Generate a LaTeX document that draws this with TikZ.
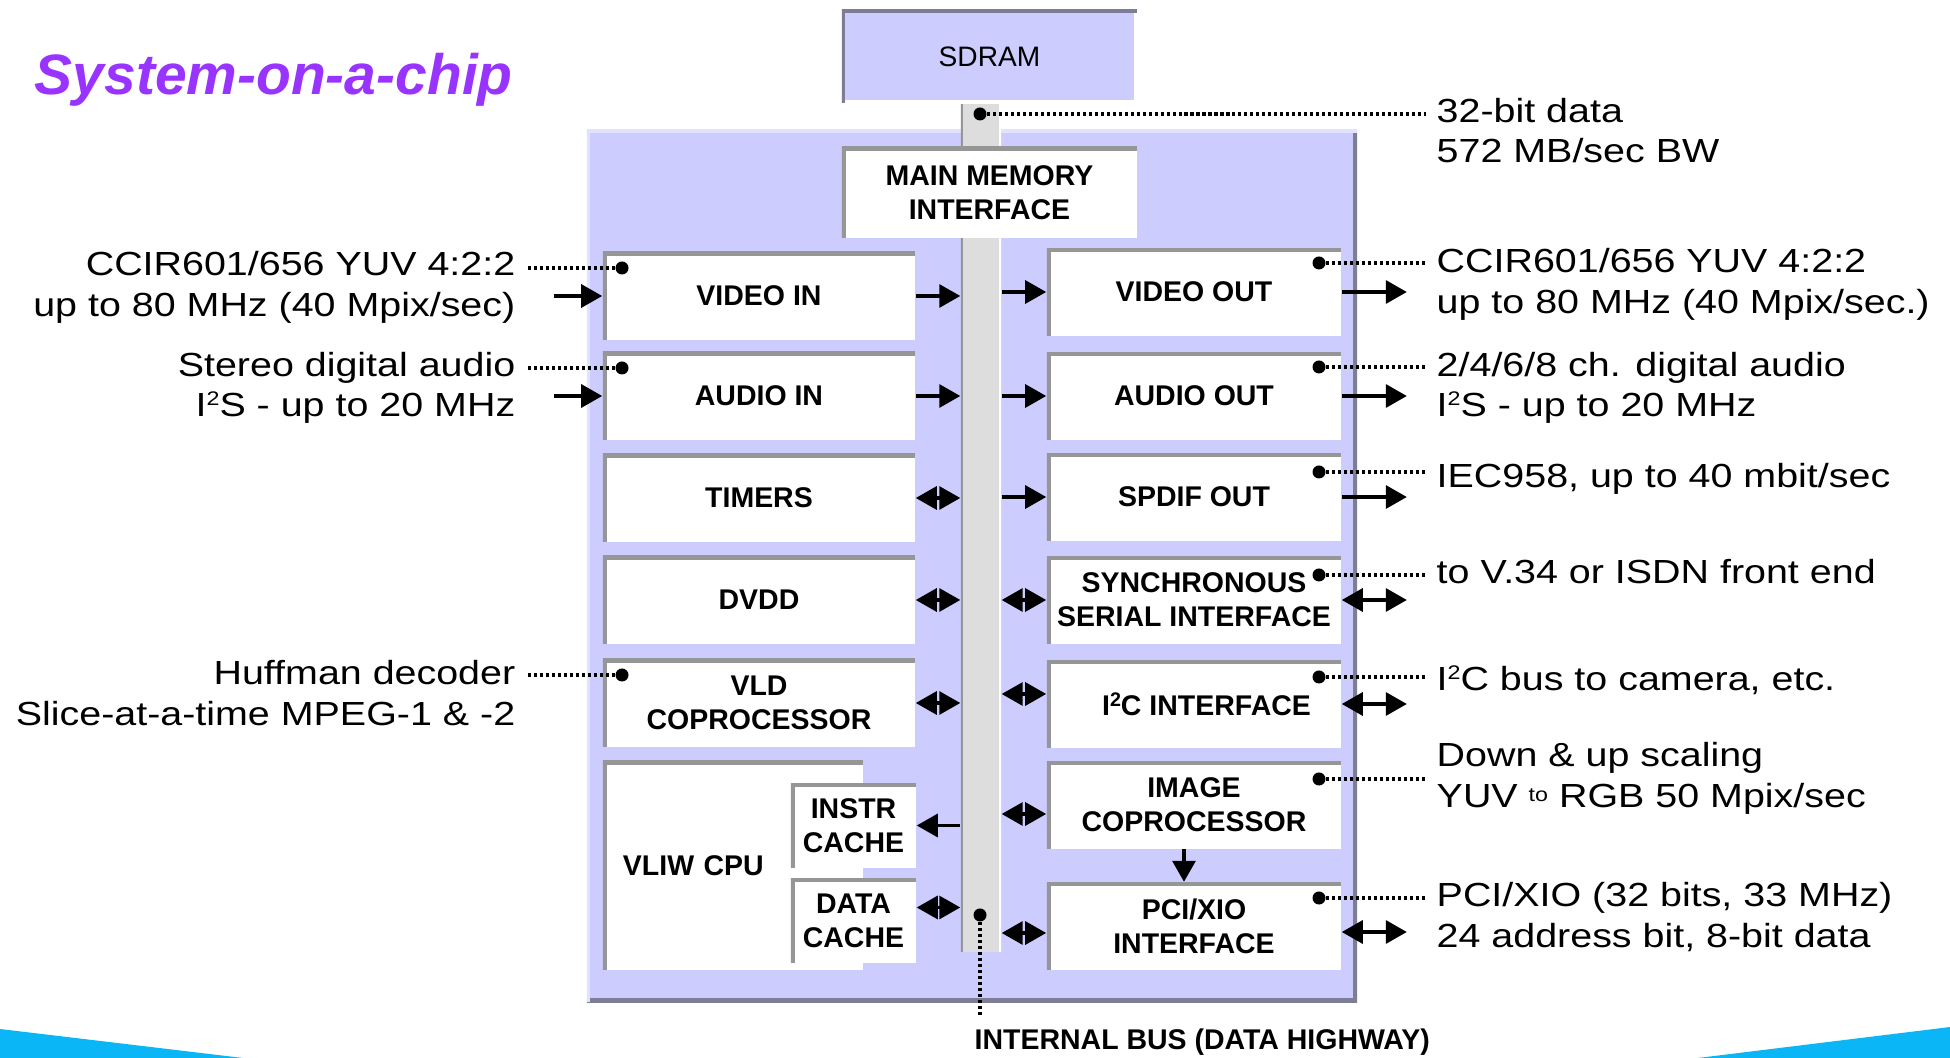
\documentclass[tikz,border=0pt]{standalone}
\usepackage{fontspec}
\setmainfont{Liberation Sans}
\newfontfamily\labelfont{Liberation Sans}[FakeStretch=1.18]
\usetikzlibrary{arrows.meta}

\definecolor{chipfill}{RGB}{204,204,255}
\definecolor{chiplight}{RGB}{226,226,255}
\definecolor{chipshade}{RGB}{125,125,150}
\definecolor{boxedge}{RGB}{150,150,150}
\definecolor{busfill}{RGB}{221,221,221}
\definecolor{titlepurple}{RGB}{153,51,255}
\definecolor{skyblue}{RGB}{10,182,246}

\newcommand{\blockfont}{\bfseries\fontsize{8.1}{9.6}\selectfont}
\newcommand{\extfont}{\labelfont\fontsize{9.5}{11.5}\selectfont}
\newcommand{\supsmall}[1]{\raisebox{0.62ex}{\fontsize{5.6}{6}\selectfont #1}}

\begin{document}
\begin{tikzpicture}[x=0.01cm, y=-0.01cm,
  flow/.style={line width=0.9pt, -{Triangle[length=2.1mm,width=2.3mm]}},
  flowtwo/.style={line width=0.9pt, {Triangle[length=2.1mm,width=2.3mm]}-{Triangle[length=2.1mm,width=2.3mm]}},
  leader/.style={line width=0.95pt, dash pattern=on 0.9pt off 0.8pt},
  tapdot/.style={circle, fill=black, inner sep=0pt, minimum size=1.3mm},
  blockbox/.style={fill=white, inner sep=0pt, align=center, font=\blockfont,
    path picture={\draw[boxedge, line width=0.8mm]
      (path picture bounding box.south west) -- (path picture bounding box.north west)
      -- (path picture bounding box.north east);}},
  leftbox/.style={blockbox, minimum width=3.12cm, minimum height=0.88cm},
  rightbox/.style={blockbox, minimum width=2.94cm, minimum height=0.87cm},
  cachebox/.style={blockbox, minimum width=1.25cm, minimum height=0.84cm},
  extlabel/.style={font=\extfont, inner xsep=1mm, inner ysep=0pt},
]

\useasboundingbox (0,0) rectangle (1950,1058);

% Background wedges
\fill[skyblue] (0,1029) -- (243,1058) -- (0,1058) -- cycle;
\fill[skyblue] (1698,1058) -- (1950,1027) -- (1950,1058) -- cycle;

% Title
\node[anchor=west, inner sep=0pt, text=titlepurple,
  font=\bfseries\itshape\fontsize{16.2}{19}\selectfont] (title) at (34,80) {System-on-a-chip};

% Chip outline
\node[fill=chipfill, inner sep=0pt, minimum width=7.70cm, minimum height=8.72cm,
  path picture={
    \draw[chipshade, line width=0.8mm] (path picture bounding box.south west)
      -- (path picture bounding box.south east) -- (path picture bounding box.north east);
    \draw[chiplight, line width=0.6mm] (path picture bounding box.south west)
      -- (path picture bounding box.north west) -- (path picture bounding box.north east);
  }] (chip) at (972,566) {};

% Internal bus
\node[fill=busfill, inner sep=0pt, minimum width=0.40cm, minimum height=8.52cm,
  path picture={
    \draw[boxedge, line width=0.5mm] (path picture bounding box.south west)
      -- (path picture bounding box.north west);
    \draw[white, line width=0.4mm] (path picture bounding box.south east)
      -- (path picture bounding box.north east);
  }] (bus) at (981,526) {};

% SDRAM
\node[fill=chipfill, inner sep=0pt, minimum width=2.95cm, minimum height=0.93cm,
  font=\fontsize{8}{9.6}\selectfont,
  path picture={
    \draw[white, line width=0.6mm] (path picture bounding box.south west)
      -- (path picture bounding box.south east) -- (path picture bounding box.north east);
    \draw[chipshade, line width=0.7mm] (path picture bounding box.south west)
      -- (path picture bounding box.north west) -- (path picture bounding box.north east);
  }] (sdram) at (989.5,56.5) {SDRAM};

\node[blockbox, minimum width=2.95cm, minimum height=0.91cm] (mmi) at (989.5,192.5) {MAIN MEMORY\\INTERFACE};

% Left column
\node[leftbox] (vin) at (759,296) {VIDEO IN};
\node[leftbox] (ain) at (759,396) {AUDIO IN};
\node[leftbox] (tim) at (759,498) {TIMERS};
\node[leftbox] (dvdd) at (759,600) {DVDD};
\node[leftbox] (vld) at (759,703) {VLD\\COPROCESSOR};
\node[blockbox, minimum width=2.60cm, minimum height=2.09cm, text width=2.2cm, align=left]
  (cpu) at (733,865.5) {VLIW CPU};
\node[cachebox] (icache) at (853.5,825.5) {INSTR\\CACHE};
\node[cachebox] (dcache) at (853.5,920.5) {DATA\\CACHE};

% Right column
\node[rightbox] (vout) at (1194,292) {VIDEO OUT};
\node[rightbox] (aout) at (1194,396) {AUDIO OUT};
\node[rightbox] (spdif) at (1194,497) {SPDIF OUT};
\node[rightbox] (ssi) at (1194,600) {SYNCHRONOUS\\SERIAL INTERFACE};
\node[rightbox] (i2c) at (1194,704) {\hspace*{2.5mm}I\supsmall{2}C INTERFACE};
\node[rightbox] (imgc) at (1194,805) {IMAGE\\COPROCESSOR};
\node[rightbox] (pci) at (1194,926) {PCI/XIO\\INTERFACE};

% Bus connections, left
\draw[flow] ([xshift=-4.8mm]vin.west) -- (vin.west);
\draw[flow] ([xshift=-4.8mm]ain.west) -- (ain.west);
\draw[flow] (vin.east) -- (vin.east -| bus.west);
\draw[flow] (ain.east) -- (ain.east -| bus.west);
\draw[flowtwo] (tim.east) -- (tim.east -| bus.west);
\draw[flowtwo] (dvdd.east) -- (dvdd.east -| bus.west);
\draw[flowtwo] (vld.east) -- (vld.east -| bus.west);
\draw[flow] (icache.east -| bus.west) -- (icache.east);
\draw[flowtwo] ([yshift=1.3mm]dcache.east) -- ([yshift=1.3mm]dcache.east -| bus.west);

% Bus connections, right
\draw[flow] (vout.west -| bus.east) -- (vout.west);
\draw[flow] (aout.west -| bus.east) -- (aout.west);
\draw[flow] (spdif.west -| bus.east) -- (spdif.west);
\draw[flowtwo] (ssi.west -| bus.east) -- (ssi.west);
\draw[flowtwo] ([yshift=1mm]i2c.west -| bus.east) -- ([yshift=1mm]i2c.west);
\draw[flowtwo] ([yshift=-0.9mm]imgc.west -| bus.east) -- ([yshift=-0.9mm]imgc.west);
\draw[flowtwo] ([yshift=-0.7mm]pci.west -| bus.east) -- ([yshift=-0.7mm]pci.west);
\draw[flow] ([xshift=-1mm]imgc.south) -- ([xshift=-1mm]pci.north);

% External pins, right
\draw[flow] (vout.east) -- ([xshift=6.5mm]vout.east);
\draw[flow] (aout.east) -- ([xshift=6.5mm]aout.east);
\draw[flow] (spdif.east) -- ([xshift=6.5mm]spdif.east);
\draw[flowtwo] (ssi.east) -- ([xshift=6.5mm]ssi.east);
\draw[flowtwo] (i2c.east) -- ([xshift=6.5mm]i2c.east);
\draw[flowtwo] ([yshift=-0.6mm]pci.east) -- ([yshift=-0.6mm,xshift=6.5mm]pci.east);

% Tap dots
\node[tapdot] (dsd) at (980,114) {};
\node[tapdot] (dbus) at (980,915) {};
\node[tapdot] (dvin) at (622,268) {};
\node[tapdot] (dain) at (622,368) {};
\node[tapdot] (dvld) at (622,675) {};
\node[tapdot] (dvout) at (1319,263) {};
\node[tapdot] (daout) at (1319,367) {};
\node[tapdot] (dspdif) at (1319,472) {};
\node[tapdot] (dssi) at (1319,575) {};
\node[tapdot] (di2c) at (1319,677) {};
\node[tapdot] (dimg) at (1319,779) {};
\node[tapdot] (dpci) at (1319,898) {};
\coordinate (busend) at (980,1017);

% Outside labels, left
\node[extlabel, anchor=east, align=right] (lvin) at (526,287.5) {CCIR601/656 YUV 4:2:2\\up to 80 MHz (40 Mpix/sec)};
\node[extlabel, anchor=east, align=right] (lain) at (526,388) {Stereo digital audio\\I\supsmall{2}S - up to 20 MHz};
\node[extlabel, anchor=east, align=right] (lvld) at (526,693) {Huffman decoder\\Slice-at-a-time MPEG-1 \& -2};

% Outside labels, right
\node[extlabel, anchor=west, align=left] (lsd) at (1426,130.5) {32-bit data\\572 MB/sec BW};
\node[extlabel, anchor=west, align=left] (lvout) at (1426,284.5) {CCIR601/656 YUV 4:2:2\\up to 80 MHz (40 Mpix/sec.)};
\node[extlabel, anchor=west, align=left] (laout) at (1426,388) {2/4/6/8 ch. digital audio\\I\supsmall{2}S - up to 20 MHz};
\node[extlabel, anchor=west] (lspdif) at (1426,479) {IEC958, up to 40 mbit/sec};
\node[extlabel, anchor=west] (lssi) at (1426,572) {to V.34 or ISDN front end};
\node[extlabel, anchor=west] (li2c) at (1426,680) {I\supsmall{2}C bus to camera, etc.};
\node[extlabel, anchor=west, align=left] (limg) at (1426,778.5) {Down \& up scaling\\YUV \raisebox{0.35ex}{\fontsize{5.6}{6}\selectfont to} RGB 50 Mpix/sec};
\node[extlabel, anchor=west, align=left] (lpci) at (1426,917) {PCI/XIO (32 bits, 33 MHz)\\24 address bit, 8-bit data};
\node[font=\blockfont, anchor=north west, inner sep=0pt] (lbus) at (974,1028) {INTERNAL BUS (DATA HIGHWAY)};

% Dotted leaders
\draw[leader] (dsd) -- (dsd -| lsd.west);
\draw[leader] (dbus) -- (busend);
\draw[leader] (dvin) -- (dvin -| lvin.east);
\draw[leader] (dain) -- (dain -| lain.east);
\draw[leader] (dvld) -- (dvld -| lvld.east);
\draw[leader] (dvout) -- (dvout -| lvout.west);
\draw[leader] (daout) -- (daout -| laout.west);
\draw[leader] (dspdif) -- (dspdif -| lspdif.west);
\draw[leader] (dssi) -- (dssi -| lssi.west);
\draw[leader] (di2c) -- (di2c -| li2c.west);
\draw[leader] (dimg) -- (dimg -| limg.west);
\draw[leader] (dpci) -- (dpci -| lpci.west);

\end{tikzpicture}
\end{document}
